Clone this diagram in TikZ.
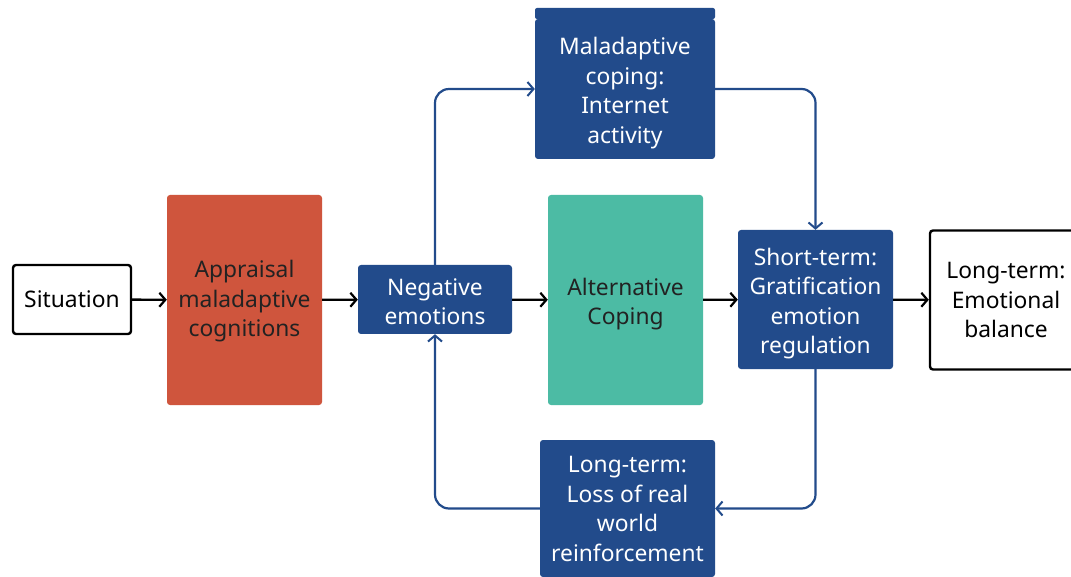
\documentclass[tikz,border=0pt]{standalone}
\usepackage{fontspec}
\setmainfont[Ligatures=CommonOff]{Noto Sans}
\usetikzlibrary{arrows.meta}
\definecolor{cblue}{HTML}{224B8B}
\definecolor{corange}{HTML}{CF553D}
\definecolor{cteal}{HTML}{4CBBA4}
\definecolor{cdark}{HTML}{222222}
\tikzset{
  base/.style={rounded corners=3pt, align=center, inner sep=0pt,
    font=\fontsize{22.8}{29.5}\selectfont},
  lastline/.style={text height=#1, text depth=0pt},
  whitebox/.style={base, draw=black, line width=2.4pt, fill=white, text=black},
  bluebox/.style={base, fill=cblue, text=white},
  orangebox/.style={base, fill=corange, text=cdark},
  tealbox/.style={base, fill=cteal, text=cdark},
  blk/.style={line width=2.4pt, draw=black, -{Straight Barb[length=6pt,width=14pt,line width=2.2pt]}},
  blu/.style={line width=2.2pt, draw=cblue, rounded corners=14pt, -{Straight Barb[length=6pt,width=14pt,line width=2pt]}}
}
\begin{document}
\begin{tikzpicture}[x=1pt,y=-1pt]
\useasboundingbox[fill=white] (0,0) rectangle (1071,577);
% top strip
\fill[cblue, rounded corners=2pt] (535,8) rectangle (715,19);
\node[bluebox, lastline=108.6pt, minimum width=180pt, minimum height=140pt] (mal) at (625,89) {Maladaptive\\coping:\\Internet\\activity};
\node[whitebox, minimum width=118pt, minimum height=69pt] (sit) at (72,299.5) {Situation};
\node[orangebox, lastline=74pt, minimum width=155pt, minimum height=210pt] (appr) at (244.5,300) {Appraisal\\maladaptive\\cognitions};
\node[bluebox, lastline=50.8pt, minimum width=154pt, minimum height=69pt] (neg) at (435,299.5) {Negative\\emotions};
\node[tealbox, lastline=49.6pt, minimum width=155pt, minimum height=210pt] (alt) at (625.5,300) {Alternative\\Coping};
\node[bluebox, lastline=108.6pt, minimum width=155pt, minimum height=139pt] (short) at (815.5,299.5) {Short-term:\\Gratification\\emotion\\regulation};
\node[whitebox, minimum width=152pt, minimum height=139pt] (lt) at (1006,300) {Long-term:\\Emotional\\balance};
\node[bluebox, lastline=105.5pt, minimum width=175pt, minimum height=137pt] (loss) at (627.5,508.5) {Long-term:\\Loss of real\\world\\reinforcement};
% black arrows
\draw[blk] (sit) -- (appr);
\draw[blk] (appr) -- (neg);
\draw[blk] (neg) -- (alt);
\draw[blk] (alt) -- (short);
\draw[blk] (short) -- (lt);
% blue loop
\draw[blu] (neg.north) |- (mal.west);
\draw[blu] (mal.east) -| (short.north);
\draw[blu] (short.south) |- (loss.east);
\draw[blu] (loss.west) -| (neg.south);
\end{tikzpicture}
\end{document}
